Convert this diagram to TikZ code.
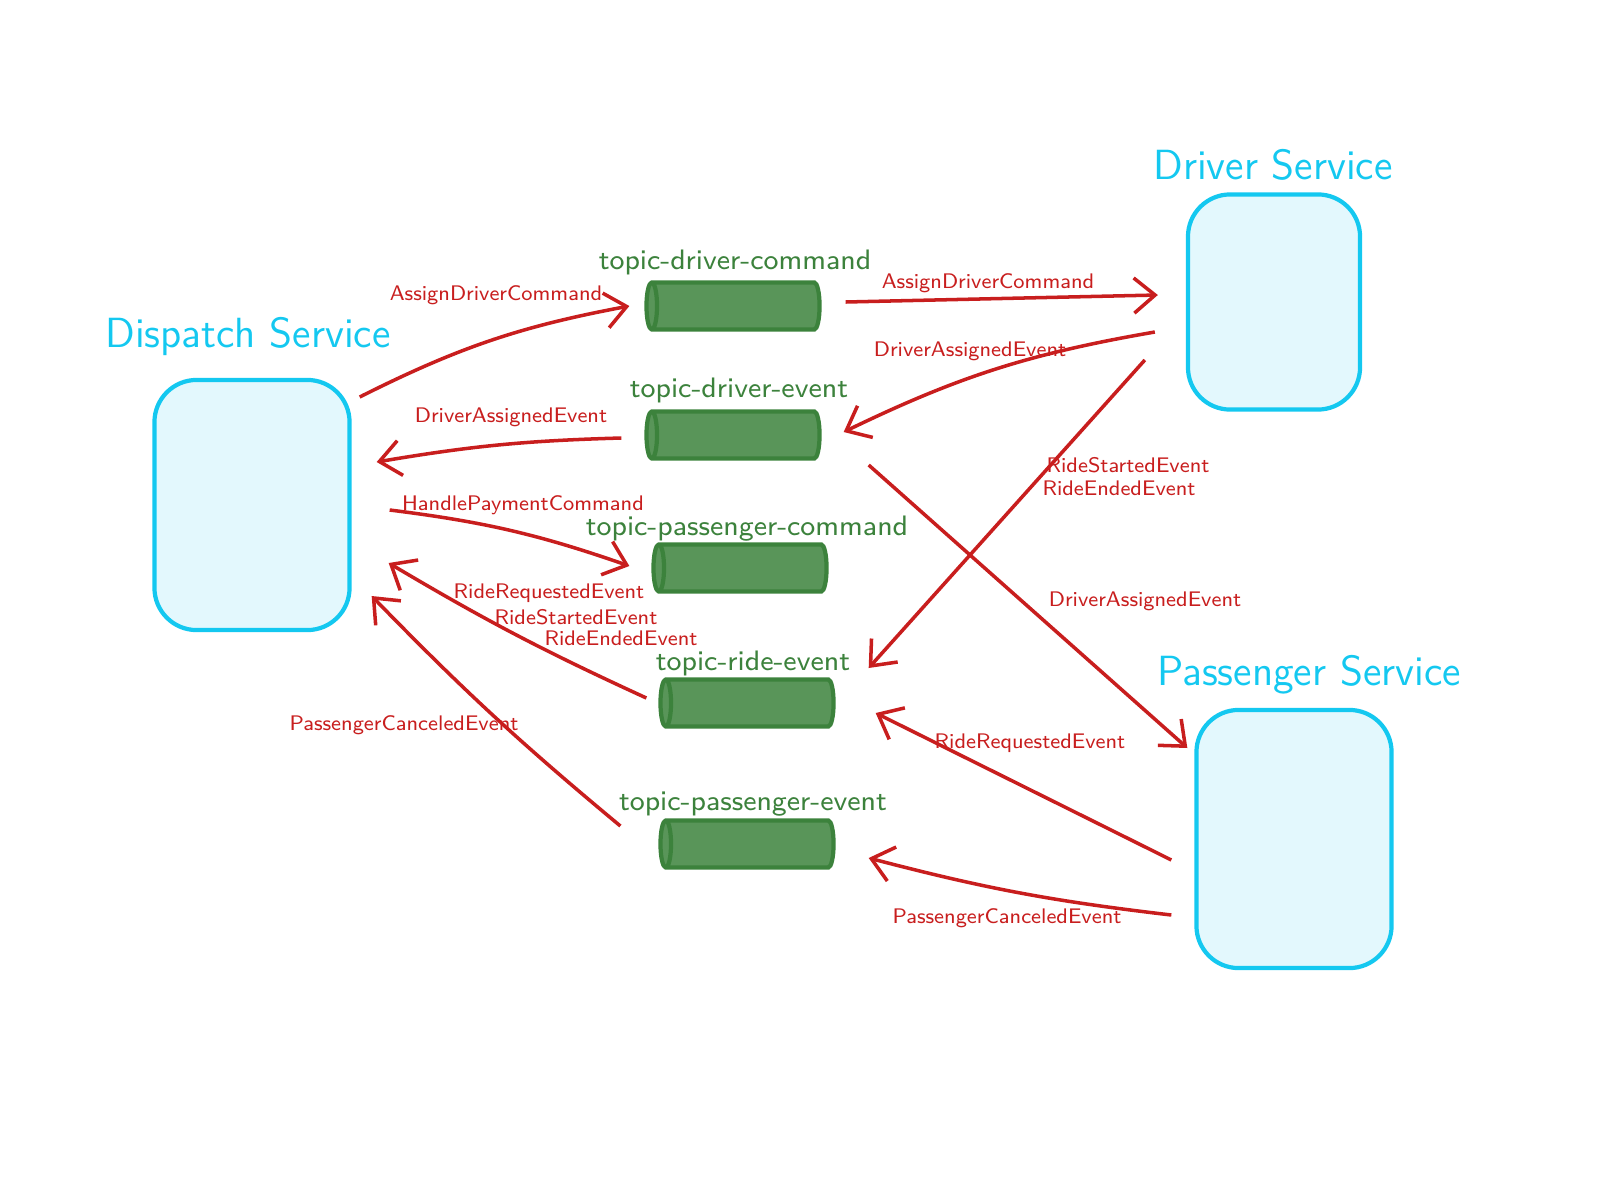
\documentclass[tikz,border=0pt]{standalone}
\usepackage{tikz}
\usetikzlibrary{arrows.meta, shapes.geometric}
\definecolor{svccyan}{RGB}{20,200,240}
\definecolor{topicgreen}{RGB}{60,130,60}
\definecolor{msgred}{RGB}{200,30,30}
\tikzset{
  service/.style={draw=svccyan, line width=1.2pt, fill=svccyan!12, rounded corners=12pt},
  svctitle/.style={text=svccyan, font=\sffamily\large},
  topic/.style={cylinder, shape border rotate=180, aspect=0.45, draw=topicgreen,
    line width=1.2pt, fill=topicgreen!85, minimum height=1.73cm, minimum width=0.47cm},
  topictitle/.style={text=topicgreen, font=\sffamily\footnotesize},
  msg/.style={->, msgred, line width=1pt},
  msglabel/.style={text=msgred, font=\sffamily\fontsize{6}{7}\selectfont}
}
\begin{document}
\begin{tikzpicture}[x=0.01cm, y=-0.01cm, >={Straight Barb[length=6pt,width=10pt]}]
    \useasboundingbox (0,0) rectangle (1600,1200);

    % Services
    \node[service, minimum width=1.95cm, minimum height=2.5cm] (disp) at (252,505) {};
    \node[svctitle] (dispT) at (248,337) {Dispatch Service};
    \node[service, minimum width=1.72cm, minimum height=2.15cm] (drv) at (1274,302) {};
    \node[svctitle] (drvT) at (1273,165) {Driver Service};
    \node[service, minimum width=1.95cm, minimum height=2.58cm] (pas) at (1294,839) {};
    \node[svctitle] (pasT) at (1309,675) {Passenger Service};

    % Topics
    \node[topic] (dcmd) at (739,306) {};
    \node[topictitle] (dcmdT) at (735,262) {topic-driver-command};
    \node[topic] (dev) at (739,435) {};
    \node[topictitle] (devT) at (739,390) {topic-driver-event};
    \node[topic] (pcmd) at (746,568) {};
    \node[topictitle] (pcmdT) at (747,529) {topic-passenger-command};
    \node[topic] (ride) at (753,703) {};
    \node[topictitle] (rideT) at (753,663) {topic-ride-event};
    \node[topic] (pev) at (753,844) {};
    \node[topictitle] (pevT) at (753,804) {topic-passenger-event};

    % Messages
    \draw[msg] ([shift={(8,-108)}]disp.east) to[bend left=8] ([shift={(-15,0)}]dcmd.west);
    \node[msglabel] (m1) at (496,295) {AssignDriverCommand};
    \draw[msg] ([shift={(24,-4)}]dcmd.east) -- ([shift={(-28,-7)}]drv.west);
    \node[msglabel] (m2) at (988,283) {AssignDriverCommand};
    \draw[msg] ([shift={(-31,30)}]drv.west) to[bend right=8] ([shift={(22,-3)}]dev.east);
    \node[msglabel] (m3) at (970,351) {DriverAssignedEvent};
    \draw[msg] ([shift={(-23,3)}]dev.west) to[bend right=4] ([shift={(25,-43)}]disp.east);
    \node[msglabel] (m4) at (511,417) {DriverAssignedEvent};
    \draw[msg] ([shift={(38,5)}]disp.east) to[bend left=6] ([shift={(-22,-2)}]pcmd.west);
    \node[msglabel] (m5) at (523,505) {HandlePaymentCommand};
    \draw[msg] ([shift={(-12,-5)}]ride.west) to[bend left=3] ([shift={(37,58)}]disp.east);
    \node[msglabel] (m6a) at (549,593) {RideRequestedEvent};
    \node[msglabel] (m6b) at (576,617) {RideStartedEvent};
    \node[msglabel] (m6c) at (621,638) {RideEndedEvent};
    \draw[msg] ([shift={(-38,-18)}]pev.west) to[bend left=3] ([shift={(20,91)}]disp.east);
    \node[msglabel] (m7) at (404,725) {PassengerCanceledEvent};
    \draw[msg] ([shift={(-41,58)}]drv.west) -- ([shift={(33,-35)}]ride.east);
    \node[msglabel] (m8a) at (1128,465) {RideStartedEvent};
    \node[msglabel] (m8b) at (1119,488) {RideEndedEvent};
    \draw[msg] ([shift={(47,30)}]dev.east) -- ([shift={(-7,-91)}]pas.west);
    \node[msglabel] (m9) at (1145,601) {DriverAssignedEvent};
    \draw[msg] ([shift={(-23,21)}]pas.west) -- ([shift={(40,10)}]ride.east);
    \node[msglabel] (m10) at (1030,743) {RideRequestedEvent};
    \draw[msg] ([shift={(-23,76)}]pas.west) to[bend left=4] ([shift={(33,14)}]pev.east);
    \node[msglabel] (m11) at (1007,918) {PassengerCanceledEvent};
\end{tikzpicture}
\end{document}
